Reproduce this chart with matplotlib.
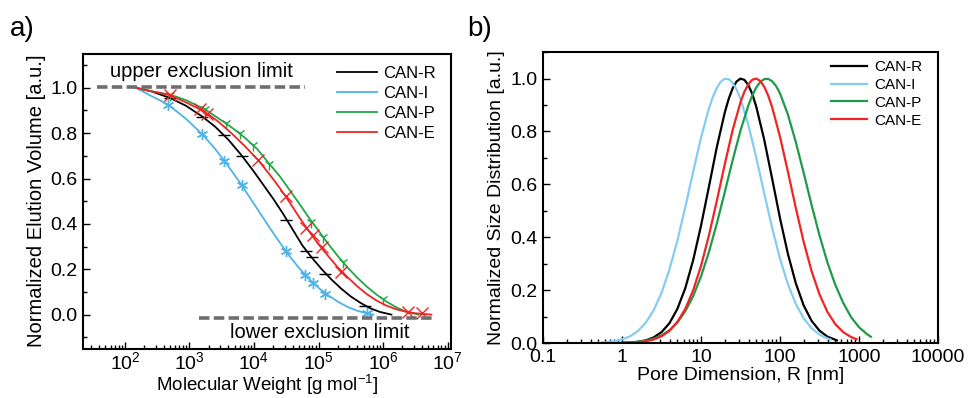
import numpy as np
import matplotlib
matplotlib.use('Agg')
import matplotlib.pyplot as plt
from matplotlib.ticker import LogLocator, NullFormatter, MultipleLocator, FixedLocator, FixedFormatter

plt.rcParams['font.family'] = ['Liberation Sans', 'DejaVu Sans']
plt.rcParams['mathtext.fontset'] = 'custom'
plt.rcParams['mathtext.rm'] = 'Liberation Sans'
plt.rcParams['mathtext.it'] = 'Liberation Sans:italic'

names = ['CAN-R', 'CAN-I', 'CAN-P', 'CAN-E']

# ---- panel a: calibration curves, log10(M) vs normalized elution volume
fit_logM = {
    'CAN-R': [2.17, 2.4, 2.7, 2.95, 3.2, 3.4, 3.6, 3.8, 4.0, 4.15, 4.3, 4.45, 4.6, 4.75, 4.9,
              5.05, 5.2, 5.35, 5.5, 5.65, 5.8, 5.95, 6.13],
    'CAN-I': [2.17, 2.4, 2.67, 2.95, 3.2, 3.4, 3.6, 3.8, 3.95, 4.1, 4.25, 4.4, 4.55, 4.7, 4.85,
              5.0, 5.15, 5.3, 5.45, 5.6, 5.75, 5.85],
    'CAN-P': [2.17, 2.4, 2.7, 2.95, 3.24, 3.45, 3.65, 3.85, 4.05, 4.24, 4.4, 4.55, 4.7, 4.85, 5.0,
              5.15, 5.3, 5.45, 5.6, 5.75, 5.9, 6.05, 6.2, 6.35, 6.55],
    'CAN-E': [2.17, 2.4, 2.7, 2.95, 3.24, 3.45, 3.65, 3.85, 4.06, 4.25, 4.4, 4.55, 4.7, 4.85, 5.0,
              5.15, 5.3, 5.45, 5.6, 5.75, 5.9, 6.05, 6.2, 6.35, 6.5, 6.75],
}
fit_vol = {
    'CAN-R': [1.0, 0.985, 0.955, 0.92, 0.873, 0.828, 0.772, 0.705, 0.63, 0.57, 0.51, 0.445, 0.375,
              0.305, 0.25, 0.2, 0.155, 0.115, 0.08, 0.052, 0.028, 0.012, 0.0],
    'CAN-I': [1.0, 0.965, 0.926, 0.862, 0.795, 0.73, 0.655, 0.575, 0.51, 0.445, 0.38, 0.318, 0.258,
              0.205, 0.158, 0.118, 0.085, 0.057, 0.034, 0.017, 0.006, 0.0],
    'CAN-P': [1.0, 0.985, 0.97, 0.945, 0.905, 0.865, 0.826, 0.782, 0.73, 0.664, 0.61, 0.55, 0.49,
              0.428, 0.37, 0.312, 0.258, 0.208, 0.163, 0.123, 0.088, 0.058, 0.033, 0.014, 0.0],
    'CAN-E': [1.0, 0.985, 0.967, 0.935, 0.894, 0.85, 0.8, 0.745, 0.683, 0.615, 0.558, 0.496, 0.43,
              0.368, 0.31, 0.258, 0.208, 0.165, 0.125, 0.09, 0.062, 0.04, 0.024, 0.013, 0.006, 0.0],
}
pts_logM = {
    'CAN-R': [2.70, 3.20, 3.54, 3.81, 4.50, 4.80, 4.90, 5.10, 5.72],
    'CAN-I': [2.67, 3.20, 3.54, 3.81, 4.49, 4.79, 4.92, 5.10, 5.75],
    'CAN-P': [2.70, 3.24, 3.57, 3.79, 3.99, 4.24, 4.89, 5.07, 5.38, 6.00],
    'CAN-E': [2.70, 3.16, 3.27, 4.06, 4.49, 4.80, 4.92, 5.05, 5.35, 6.39, 6.61],
}
pts_vol = {
    'CAN-R': [0.955, 0.873, 0.792, 0.701, 0.419, 0.282, 0.253, 0.180, 0.038],
    'CAN-I': [0.926, 0.795, 0.678, 0.570, 0.282, 0.176, 0.138, 0.092, 0.008],
    'CAN-P': [0.97, 0.905, 0.843, 0.799, 0.748, 0.664, 0.410, 0.341, 0.231, 0.071],
    'CAN-E': [0.967, 0.905, 0.885, 0.683, 0.523, 0.384, 0.350, 0.297, 0.188, 0.012, 0.005],
}

# ---- panel b: pore size distributions, log10(R / nm) vs normalized distribution
psd_logR = {
    'CAN-R': [0.0, 0.1, 0.2, 0.3, 0.4, 0.5, 0.6, 0.7, 0.8, 0.9, 1.0, 1.1, 1.2, 1.3, 1.35, 1.4,
              1.45, 1.5, 1.55, 1.6, 1.65, 1.7, 1.8, 1.9, 2.0, 2.1, 2.2, 2.3, 2.4, 2.5, 2.6, 2.72],
    'CAN-I': [-0.3, -0.2, -0.1, 0.0, 0.1, 0.2, 0.3, 0.4, 0.5, 0.6, 0.7, 0.8, 0.9, 1.0, 1.1, 1.15,
              1.2, 1.25, 1.3, 1.35, 1.4, 1.45, 1.5, 1.6, 1.7, 1.8, 1.9, 2.0, 2.1, 2.2, 2.3, 2.4,
              2.5, 2.6, 2.64],
    'CAN-P': [0.0, 0.1, 0.2, 0.3, 0.4, 0.5, 0.6, 0.7, 0.8, 0.9, 1.0, 1.1, 1.2, 1.3, 1.4, 1.5,
              1.6, 1.65, 1.7, 1.75, 1.8, 1.85, 1.9, 1.95, 2.0, 2.1, 2.2, 2.3, 2.4, 2.5, 2.6, 2.7,
              2.8, 2.9, 3.0, 3.1, 3.15],
    'CAN-E': [0.0, 0.1, 0.2, 0.3, 0.4, 0.5, 0.6, 0.7, 0.8, 0.9, 1.0, 1.1, 1.2, 1.3, 1.4, 1.5,
              1.55, 1.6, 1.65, 1.7, 1.75, 1.8, 1.85, 1.9, 2.0, 2.1, 2.2, 2.3, 2.4, 2.5, 2.6, 2.7,
              2.8, 2.9, 2.97],
}
psd_val = {
    'CAN-R': [0.0008, 0.002, 0.0047, 0.0103, 0.0213, 0.0413, 0.075, 0.129, 0.207, 0.313, 0.444,
              0.591, 0.741, 0.871, 0.923, 0.963, 0.989, 1.0, 0.995, 0.975, 0.941, 0.893, 0.769,
              0.622, 0.472, 0.337, 0.226, 0.142, 0.084, 0.0468, 0.0244, 0.0103],
    'CAN-I': [0.0015, 0.0033, 0.0069, 0.0136, 0.0253, 0.0452, 0.077, 0.124, 0.19, 0.278, 0.387,
              0.513, 0.647, 0.777, 0.887, 0.931, 0.965, 0.988, 0.999, 0.998, 0.984, 0.959, 0.923,
              0.824, 0.70, 0.566, 0.436, 0.319, 0.223, 0.148, 0.0934, 0.0561, 0.032, 0.0175,
              0.0136],
    'CAN-P': [0.0012, 0.0025, 0.0049, 0.0093, 0.0167, 0.029, 0.0485, 0.0778, 0.12, 0.177, 0.252,
              0.344, 0.452, 0.57, 0.691, 0.804, 0.899, 0.937, 0.967, 0.987, 0.998, 0.999, 0.99,
              0.972, 0.944, 0.864, 0.76, 0.643, 0.522, 0.407, 0.305, 0.22, 0.152, 0.098, 0.06,
              0.034, 0.024],
    'CAN-E': [0.0006, 0.0015, 0.0032, 0.0068, 0.0136, 0.0258, 0.046, 0.0795, 0.129, 0.199, 0.292,
              0.407, 0.538, 0.675, 0.805, 0.911, 0.951, 0.979, 0.996, 1.0, 0.991, 0.969, 0.936,
              0.892, 0.78, 0.648, 0.511, 0.382, 0.272, 0.184, 0.118, 0.0716, 0.0414, 0.0228,
              0.0145],
}

colors_a = {'CAN-R': 'black', 'CAN-I': '#4fb3e8', 'CAN-P': '#1fa845', 'CAN-E': '#f02424'}
colors_b = {'CAN-R': 'black', 'CAN-I': '#84cdf2', 'CAN-P': '#1e9a48', 'CAN-E': '#f02424'}
markers = {'CAN-R': '_', 'CAN-I': (6, 2, 0), 'CAN-P': '1', 'CAN-E': 'x'}


def style_axes(ax):
    for s in ax.spines.values():
        s.set_linewidth(1.5)
    ax.tick_params(which='both', direction='in', top=False, right=False, labelsize=14, width=1.0)
    ax.tick_params(which='major', length=5, pad=4)
    ax.tick_params(which='minor', length=3)


fig = plt.figure(figsize=(9.68, 3.98), dpi=100)
ax1 = fig.add_axes([0.0857, 0.124, 0.380, 0.741])
ax2 = fig.add_axes([0.561, 0.138, 0.408, 0.731])

for n in names:
    ax1.plot(10 ** np.array(fit_logM[n]), fit_vol[n], color=colors_a[n], lw=1.3, label=n)
    ax1.plot(10 ** np.array(pts_logM[n]), pts_vol[n], ls='none', marker=markers[n],
             color=colors_a[n], ms=8, mew=1.0)

ax1.plot([10 ** 1.57, 10 ** 4.79], [1.005, 1.005], color='#6e6e6e', lw=2.6, dashes=(2.9, 1.2))
ax1.plot([10 ** 3.15, 10 ** 6.77], [-0.013, -0.013], color='#6e6e6e', lw=2.6, dashes=(2.9, 1.2))
ax1.text(10 ** 3.18, 1.07, 'upper exclusion limit', ha='center', va='center', fontsize=14.5)
ax1.text(10 ** 5.02, -0.078, 'lower exclusion limit', ha='center', va='center', fontsize=14.5)

ax1.set_xscale('log')
ax1.set_xlim(10 ** 1.35, 10 ** 7.05)
ax1.set_ylim(-0.15, 1.15)
ax1.set_yticks([0.0, 0.2, 0.4, 0.6, 0.8, 1.0])
ax1.yaxis.set_minor_locator(MultipleLocator(0.1))
ax1.xaxis.set_major_locator(LogLocator(base=10, numticks=20))
ax1.xaxis.set_minor_locator(LogLocator(base=10, subs=np.arange(2, 10), numticks=20))
ax1.xaxis.set_minor_formatter(NullFormatter())
style_axes(ax1)
ax1.tick_params(axis='x', which='major', pad=2)
ax1.set_xlabel('Molecular Weight [g mol$^{-1}$]', fontsize=13.5, labelpad=0)
ax1.set_ylabel('Normalized Elution Volume [a.u.]', fontsize=14.5, labelpad=3)
ax1.legend(loc='upper right', bbox_to_anchor=(1.0, 1.01), frameon=False, fontsize=12,
           handlelength=2.4, handletextpad=0.4, labelspacing=0.3)

for n in names:
    ax2.plot(10 ** np.array(psd_logR[n]), psd_val[n], color=colors_b[n], lw=1.6, label=n)

ax2.set_xscale('log')
ax2.set_xlim(0.1, 10000)
ax2.set_ylim(0, 1.1)
ax2.set_yticks([0.0, 0.2, 0.4, 0.6, 0.8, 1.0])
ax2.yaxis.set_minor_locator(MultipleLocator(0.1))
ax2.xaxis.set_major_locator(FixedLocator([0.1, 1, 10, 100, 1000, 10000]))
ax2.xaxis.set_major_formatter(FixedFormatter(['0.1', '1', '10', '100', '1000', '10000']))
ax2.xaxis.set_minor_locator(LogLocator(base=10, subs=np.arange(2, 10), numticks=20))
ax2.xaxis.set_minor_formatter(NullFormatter())
style_axes(ax2)
ax2.set_xlabel('Pore Dimension, R [nm]', fontsize=14, labelpad=1)
ax2.set_ylabel('Normalized Size Distribution [a.u.]', fontsize=14, labelpad=4)
ax2.legend(loc='upper right', bbox_to_anchor=(0.995, 1.02), frameon=False, fontsize=11,
           handlelength=2.3, handletextpad=0.5, labelspacing=0.25)

fig.text(0.010, 0.91, 'a)', fontsize=20)
fig.text(0.483, 0.91, 'b)', fontsize=20)

fig.savefig('out.png', dpi=100)
